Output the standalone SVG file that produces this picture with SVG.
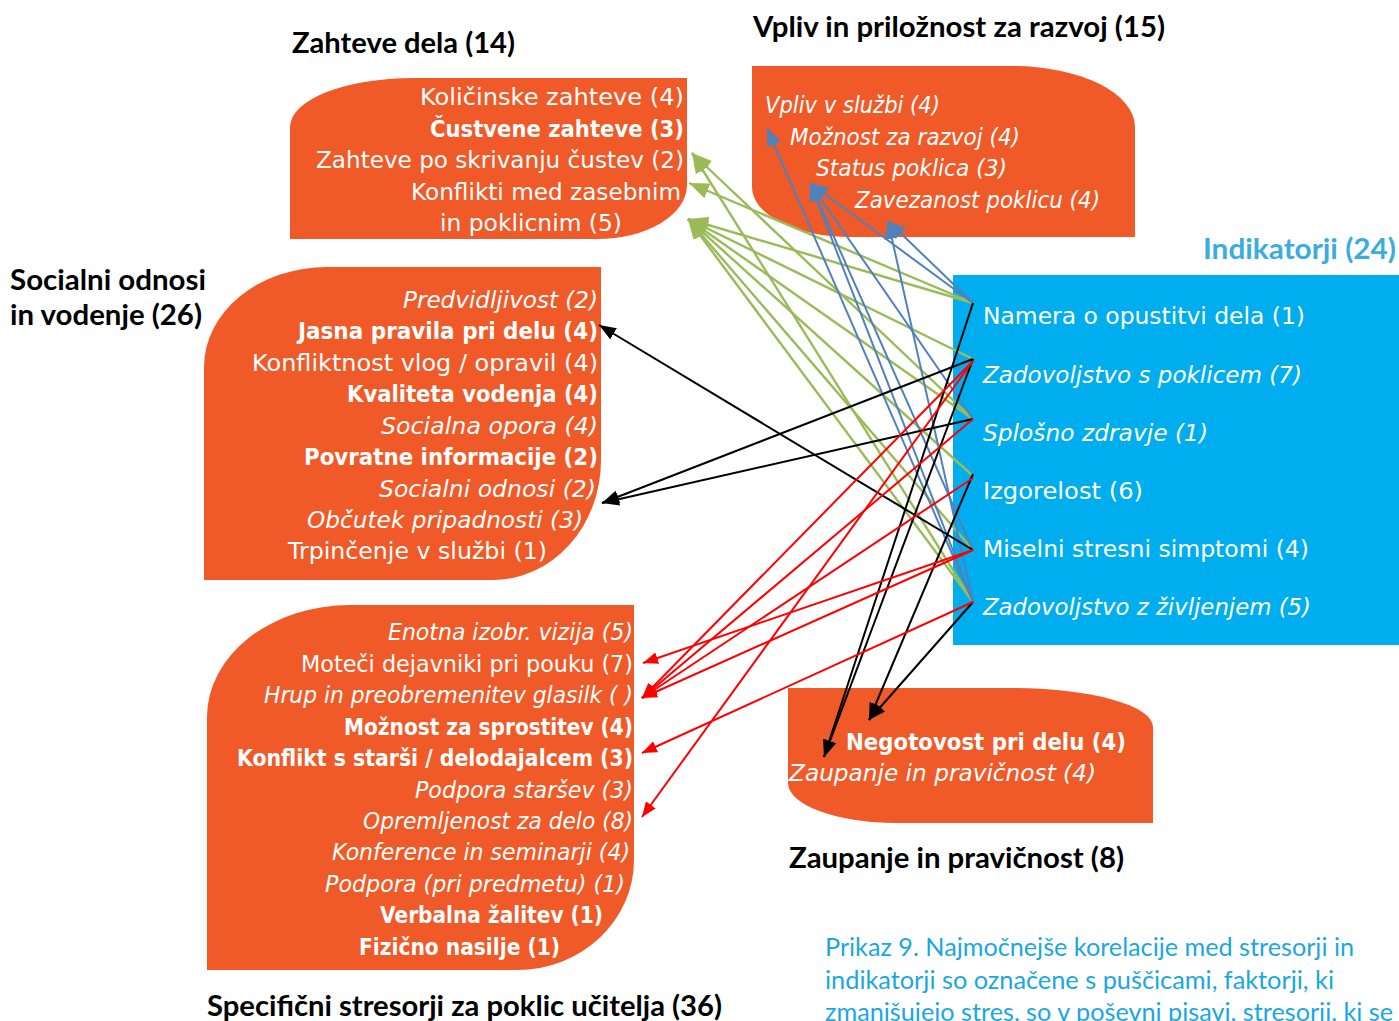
<svg xmlns="http://www.w3.org/2000/svg" width="1399" height="1021" viewBox="0 0 1399 1021">
<style>
.box{fill:#F05A28}
.blue{fill:#00AEEF}
.t{font-family:"DejaVu Sans","Noto Sans",sans-serif;font-size:23px;fill:#fff}
.i{font-style:italic}
.b{font-weight:bold}
.h{font-family:Lato,"Noto Sans",sans-serif;font-weight:bold;font-size:29px;fill:#000}
.hb{fill:#3AACE0}
.cap{font-family:Lato,"Noto Sans",sans-serif;font-size:25px;fill:#1AA7E1}
.c{fill:none;stroke-width:2}
.g{stroke:#9BBB59;stroke-width:2.4;marker-end:url(#ag)}
.bl{stroke:#4F81BD;marker-end:url(#ab)}
.k{stroke:#000;marker-end:url(#ak)}
.rd{stroke:#FF0000;marker-end:url(#ar)}
</style>
<defs>
<marker id="ag" markerUnits="userSpaceOnUse" markerWidth="20" markerHeight="16" viewBox="0 0 20 16" refX="20" refY="8" orient="auto"><path d="M0,0 L20,8 L0,16 Z" fill="#9BBB59"/></marker>
<marker id="ab" markerUnits="userSpaceOnUse" markerWidth="18" markerHeight="15" viewBox="0 0 18 15" refX="18" refY="7.5" orient="auto"><path d="M0,0 L18,7.5 L0,15 Z" fill="#4F81BD"/></marker>
<marker id="ak" markerUnits="userSpaceOnUse" markerWidth="17" markerHeight="13" viewBox="0 0 17 13" refX="17" refY="6.5" orient="auto"><path d="M0,0 L17,6.5 L0,13 Z" fill="#000"/></marker>
<marker id="ar" markerUnits="userSpaceOnUse" markerWidth="15" markerHeight="12" viewBox="0 0 15 12" refX="15" refY="6" orient="auto"><path d="M0,0 L15,6 L0,12 Z" fill="#FF0000"/></marker>
</defs>
<rect width="1399" height="1021" fill="#fff"/>

<g id="zahteve-dela">
<path class="box" d="M290,239 V127 A123,49 0 0 1 413,78 H687 V185 A90,54 0 0 1 597,239 Z"/>
<text class="h" x="292" y="53" textLength="223" lengthAdjust="spacingAndGlyphs">Zahteve dela (14)</text>
<text class="t" x="420" y="105" textLength="264" lengthAdjust="spacingAndGlyphs">Količinske zahteve  (4)</text>
<text class="t b" x="430" y="137" textLength="254" lengthAdjust="spacingAndGlyphs">Čustvene zahteve (3)</text>
<text class="t" x="316" y="168" textLength="368" lengthAdjust="spacingAndGlyphs">Zahteve po skrivanju čustev (2)</text>
<text class="t" x="411" y="200" textLength="270" lengthAdjust="spacingAndGlyphs">Konflikti med zasebnim</text>
<text class="t" x="440" y="231" textLength="182" lengthAdjust="spacingAndGlyphs">in poklicnim (5)</text>
</g>

<g id="vpliv">
<path class="box" d="M752,66 H1013 A122,61 0 0 1 1135,127 V237 H850 A98,50 0 0 1 752,187 Z"/>
<text class="h" x="753" y="37" textLength="412" lengthAdjust="spacingAndGlyphs">Vpliv in priložnost za razvoj (15)</text>
<text class="t i" x="765" y="113" textLength="175" lengthAdjust="spacingAndGlyphs">Vpliv v službi (4)</text>
<text class="t i" x="790" y="145" textLength="230" lengthAdjust="spacingAndGlyphs">Možnost za razvoj (4)</text>
<text class="t i" x="816" y="176" textLength="191" lengthAdjust="spacingAndGlyphs">Status poklica (3)</text>
<text class="t i" x="855" y="208" textLength="245" lengthAdjust="spacingAndGlyphs">Zavezanost poklicu (4)</text>
</g>

<g id="socialni-odnosi">
<path class="box" d="M204,580 V367 A123,100 0 0 1 327,267 H601 V460 A108,120 0 0 1 493,580 Z"/>
<text class="h" x="10" y="290" textLength="196" lengthAdjust="spacingAndGlyphs">Socialni odnosi</text>
<text class="h" x="10" y="325" textLength="192" lengthAdjust="spacingAndGlyphs">in vodenje (26)</text>
<text class="t i" x="403" y="308" textLength="195" lengthAdjust="spacingAndGlyphs">Predvidljivost (2)</text>
<text class="t b" x="298" y="339" textLength="300" lengthAdjust="spacingAndGlyphs">Jasna pravila pri delu (4)</text>
<text class="t" x="252" y="371" textLength="346" lengthAdjust="spacingAndGlyphs">Konfliktnost vlog / opravil (4)</text>
<text class="t b" x="347" y="402" textLength="251" lengthAdjust="spacingAndGlyphs">Kvaliteta vodenja (4)</text>
<text class="t i" x="381" y="434" textLength="217" lengthAdjust="spacingAndGlyphs">Socialna opora (4)</text>
<text class="t b" x="304" y="465" textLength="294" lengthAdjust="spacingAndGlyphs">Povratne informacije (2)</text>
<text class="t i" x="379" y="497" textLength="217" lengthAdjust="spacingAndGlyphs">Socialni odnosi (2)</text>
<text class="t i" x="307" y="528" textLength="276" lengthAdjust="spacingAndGlyphs">Občutek pripadnosti (3)</text>
<text class="t" x="288" y="559" textLength="259" lengthAdjust="spacingAndGlyphs">Trpinčenje v službi (1)</text>
</g>

<g id="specificni-stresorji">
<path class="box" d="M207,970 V717 A143,112 0 0 1 350,605 H634 V860 A117,110 0 0 1 517,970 Z"/>
<text class="h" x="207" y="1016" textLength="515" lengthAdjust="spacingAndGlyphs">Specifični stresorji za poklic učitelja (36)</text>
<text class="t i" x="388" y="640" textLength="245" lengthAdjust="spacingAndGlyphs">Enotna izobr. vizija (5)</text>
<text class="t" x="301" y="672" textLength="332" lengthAdjust="spacingAndGlyphs">Moteči dejavniki pri pouku (7)</text>
<text class="t i" x="264" y="703" textLength="369" lengthAdjust="spacingAndGlyphs">Hrup in preobremenitev glasilk ( )</text>
<text class="t b" x="344" y="735" textLength="289" lengthAdjust="spacingAndGlyphs">Možnost za sprostitev (4)</text>
<text class="t b" x="237" y="766" textLength="396" lengthAdjust="spacingAndGlyphs">Konflikt s starši / delodajalcem (3)</text>
<text class="t i" x="415" y="798" textLength="218" lengthAdjust="spacingAndGlyphs">Podpora staršev (3)</text>
<text class="t i" x="363" y="829" textLength="270" lengthAdjust="spacingAndGlyphs">Opremljenost za delo (8)</text>
<text class="t i" x="332" y="860" textLength="298" lengthAdjust="spacingAndGlyphs">Konference in seminarji (4)</text>
<text class="t i" x="325" y="892" textLength="300" lengthAdjust="spacingAndGlyphs">Podpora (pri predmetu) (1)</text>
<text class="t b" x="380" y="923" textLength="223" lengthAdjust="spacingAndGlyphs">Verbalna žalitev (1)</text>
<text class="t b" x="359" y="955" textLength="201" lengthAdjust="spacingAndGlyphs">Fizično nasilje (1)</text>
</g>

<g id="zaupanje">
<path class="box" d="M788,688 H1013 A140,39 0 0 1 1153,727 V823 H897 A109,40 0 0 1 788,783 Z"/>
<text class="h" x="789" y="868" textLength="335" lengthAdjust="spacingAndGlyphs">Zaupanje in pravičnost (8)</text>
<text class="t b" x="846" y="750" textLength="280" lengthAdjust="spacingAndGlyphs">Negotovost pri delu (4)</text>
<text class="t i" x="789" y="781" textLength="307" lengthAdjust="spacingAndGlyphs">Zaupanje in pravičnost (4)</text>
</g>

<g id="indikatorji">
<rect class="blue" x="953" y="275" width="446" height="370"/>
<text class="h hb" x="1203" y="259" textLength="193" lengthAdjust="spacingAndGlyphs">Indikatorji (24)</text>
<text class="t" x="983" y="324" textLength="322" lengthAdjust="spacingAndGlyphs">Namera o opustitvi dela (1)</text>
<text class="t i" x="983" y="383" textLength="319" lengthAdjust="spacingAndGlyphs">Zadovoljstvo s poklicem (7)</text>
<text class="t i" x="983" y="441" textLength="225" lengthAdjust="spacingAndGlyphs">Splošno zdravje (1)</text>
<text class="t" x="983" y="499" textLength="160" lengthAdjust="spacingAndGlyphs">Izgorelost (6)</text>
<text class="t" x="983" y="557" textLength="326" lengthAdjust="spacingAndGlyphs">Miselni stresni simptomi (4)</text>
<text class="t i" x="983" y="615" textLength="328" lengthAdjust="spacingAndGlyphs">Zadovoljstvo z življenjem (5)</text>
</g>

<g id="connectors">
<line class="c g" x1="973" y1="303" x2="689" y2="183"/>
<line class="c g" x1="973" y1="303" x2="688" y2="219"/>
<line class="c g" x1="973" y1="359" x2="688" y2="219"/>
<line class="c g" x1="973" y1="419" x2="692" y2="153"/>
<line class="c g" x1="973" y1="419" x2="688" y2="219"/>
<line class="c g" x1="973" y1="476" x2="688" y2="219"/>
<line class="c g" x1="973" y1="550" x2="688" y2="219"/>
<line class="c g" x1="973" y1="602" x2="692" y2="153"/>
<line class="c g" x1="973" y1="602" x2="688" y2="219"/>
<line class="c bl" x1="973" y1="602" x2="767" y2="128"/>
<line class="c bl" x1="973" y1="303" x2="810" y2="183"/>
<line class="c bl" x1="973" y1="419" x2="810" y2="183"/>
<line class="c bl" x1="973" y1="550" x2="810" y2="183"/>
<line class="c bl" x1="973" y1="602" x2="810" y2="183"/>
<line class="c bl" x1="973" y1="303" x2="888" y2="221"/>
<line class="c bl" x1="973" y1="602" x2="888" y2="221"/>
<line class="c k" x1="973" y1="550" x2="599" y2="325"/>
<line class="c k" x1="973" y1="359" x2="602" y2="503"/>
<line class="c k" x1="973" y1="419" x2="602" y2="503"/>
<line class="c k" x1="973" y1="303" x2="824" y2="757"/>
<line class="c k" x1="973" y1="359" x2="824" y2="757"/>
<line class="c k" x1="973" y1="474" x2="869" y2="720"/>
<line class="c k" x1="973" y1="602" x2="869" y2="720"/>
<line class="c rd" x1="973" y1="361" x2="642" y2="698"/>
<line class="c rd" x1="973" y1="361" x2="642" y2="817"/>
<line class="c rd" x1="973" y1="419" x2="642" y2="698"/>
<line class="c rd" x1="973" y1="478" x2="642" y2="698"/>
<line class="c rd" x1="973" y1="550" x2="643" y2="663"/>
<line class="c rd" x1="973" y1="550" x2="642" y2="698"/>
<line class="c rd" x1="973" y1="602" x2="642" y2="753"/>
</g>

<g id="caption">
<text class="cap" x="825" y="956" textLength="529" lengthAdjust="spacingAndGlyphs">Prikaz 9. Najmočnejše korelacije med stresorji in</text>
<text class="cap" x="825" y="989" textLength="509" lengthAdjust="spacingAndGlyphs">indikatorji so označene s puščicami, faktorji, ki</text>
<text class="cap" x="825" y="1021" textLength="568" lengthAdjust="spacingAndGlyphs">zmanjšujejo stres, so v poševni pisavi, stresorji, ki se</text>
</g>
</svg>
